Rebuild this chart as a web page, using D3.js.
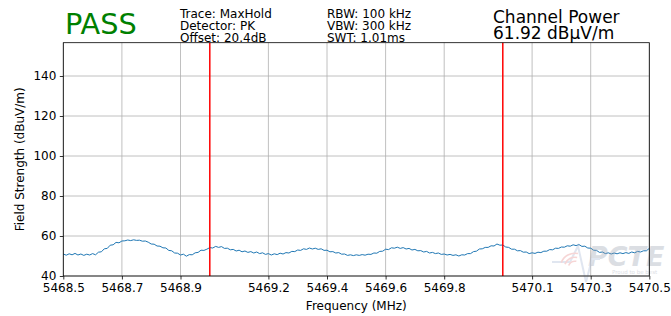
<!DOCTYPE html>
<html><head><meta charset="utf-8">
<script src="https://cdn.jsdelivr.net/npm/d3@7"></script>
<style>body{margin:0;background:#fff}svg{display:block;font-family:"DejaVu Sans",sans-serif}</style>
</head><body><svg id="c" width="671" height="316"></svg>
<script>
const startFreq = 5468.5;
const stepFreq = 0.01;
const levels = [
51.0,50.4,51.1,50.6,51.3,50.5,51.0,50.3,50.9,50.5,
51.2,50.6,51.9,52.1,53.6,53.8,55.4,55.6,56.8,56.6,
57.5,57.6,58.0,57.7,58.1,57.8,57.9,57.4,57.5,56.9,
56.0,55.9,55.0,54.9,54.1,54.0,52.8,52.6,51.5,51.4,
50.5,50.9,49.9,50.7,50.6,51.6,51.8,52.9,52.8,53.4,
54.2,54.0,54.8,54.3,54.7,53.8,53.9,53.1,53.3,52.5,
52.9,52.1,52.5,51.8,52.2,51.5,52.0,51.2,51.6,50.8,
51.2,50.5,51.1,50.7,51.4,51.0,51.7,51.5,52.3,52.2,
53.0,52.8,53.6,53.3,54.0,53.5,53.9,53.3,53.6,52.8,
52.9,52.1,52.2,51.5,51.7,50.9,51.0,50.3,50.6,50.2,
50.6,50.3,50.7,50.4,50.9,50.8,51.5,51.4,52.3,52.4,
53.4,53.2,54.1,53.9,54.4,53.8,54.2,53.5,53.8,53.0,
53.3,52.6,52.7,52.0,52.3,51.5,51.8,51.2,51.5,50.8,
51.0,50.5,50.8,50.3,50.6,50.0,50.6,50.5,51.2,51.2,
52.2,52.4,53.5,53.6,54.3,54.3,55.1,55.0,56.0,55.4,
55.5,54.5,54.3,53.4,53.4,52.6,52.7,51.9,52.0,51.2,
51.6,51.3,51.9,51.7,52.4,52.4,53.2,53.1,53.9,53.8,
54.5,54.4,55.1,54.9,55.6,55.2,55.7,54.8,54.9,54.0,
53.9,52.9,52.8,51.8,52.0,51.2,51.6,51.0,51.5,51.1,
51.6,51.2,51.7,51.3,52.0,51.6,52.3,52.0,52.6,52.6,
53.8];
const markerFreqs = [5469.0, 5470.0];
const xTicks = [5468.5, 5468.7, 5468.9, 5469.2, 5469.4, 5469.6, 5469.8, 5470.1, 5470.3, 5470.5];
const yTicks = [40, 60, 80, 100, 120, 140];
const infoCol1 = ["Trace: MaxHold", "Detector: PK", "Offset: 20.4dB"];
const infoCol2 = ["RBW: 100 kHz", "VBW: 300 kHz", "SWT: 1.01ms"];
const verdict = "PASS";
const powerTitle = "Channel Power";
const powerValue = "61.92 dBµV/m";

const data = levels.map((v, i) => ({f: startFreq + i * stepFreq, v}));
const svg = d3.select("#c");
const L = 63.3, R = 649.3, T = 42.7, B = 276;
const x = d3.scaleLinear().domain([5468.5, 5470.5]).range([L, R]);
const y = d3.scaleLinear().domain([40, 156.65]).range([B, T]);

// grid
const g = svg.append("g");
g.selectAll(".vg").data(xTicks).join("line")
  .attr("x1", d => x(d)).attr("x2", d => x(d)).attr("y1", T).attr("y2", B)
  .attr("stroke", "#b0b0b0").attr("stroke-width", 0.8);
g.selectAll(".hg").data(yTicks).join("line")
  .attr("x1", L).attr("x2", R).attr("y1", d => y(d)).attr("y2", d => y(d))
  .attr("stroke", "#b0b0b0").attr("stroke-width", 0.8);

// trace
const line = d3.line().x(d => x(d.f)).y(d => y(d.v));
svg.append("path").datum(data).attr("d", line)
  .attr("fill", "none").attr("stroke", "#1f77b4").attr("stroke-width", 1);

// markers
svg.selectAll(".mk").data(markerFreqs).join("line")
  .attr("x1", d => x(d)).attr("x2", d => x(d)).attr("y1", T).attr("y2", B)
  .attr("stroke", "#ff0000").attr("stroke-width", 1.5);

// watermark
const wm = svg.append("g").attr("opacity", 0.35);
wm.append("text").attr("x", 588).attr("y", 266).attr("font-size", 27)
  .attr("font-weight", "bold").attr("font-style", "italic").attr("fill", "#9aa3b0").text("PCTE");
wm.append("text").attr("x", 612).attr("y", 273.5).attr("font-size", 5.5)
  .attr("fill", "#9aa3b0").text("Proud to be best");
wm.append("path").attr("d", "M552,262 L570,262 L578,246 L586,282 L592,259 L600,259")
  .attr("fill", "none").attr("stroke", "#a9b8d6").attr("stroke-width", 2);
[6, 10, 14].forEach(r => wm.append("path")
  .attr("d", d3.arc()({innerRadius: r, outerRadius: r + 1.6, startAngle: -1.2, endAngle: 0.2}))
  .attr("transform", "translate(575,268)").attr("fill", "#e88a8a"));

// axes
const xa = svg.append("g").attr("transform", `translate(0,${B})`)
  .call(d3.axisBottom(x).tickValues(xTicks).tickFormat(d3.format(".1f")).tickSize(3.5).tickPadding(3.5));
const ya = svg.append("g").attr("transform", `translate(${L},0)`)
  .call(d3.axisLeft(y).tickValues(yTicks).tickSize(3.5).tickPadding(3.5));
[xa, ya].forEach(a => {
  a.select(".domain").remove();
  a.selectAll("text").attr("font-size", 12).attr("font-family", "DejaVu Sans").attr("fill", "#000");
  a.selectAll("line").attr("stroke", "#000").attr("stroke-width", 0.8);
});
svg.append("rect").attr("x", L).attr("y", T).attr("width", R - L).attr("height", B - T)
  .attr("fill", "none").attr("stroke", "#000").attr("stroke-width", 0.8);

// labels
svg.append("text").attr("x", (L + R) / 2).attr("y", 310).attr("text-anchor", "middle")
  .attr("font-size", 12).text("Frequency (MHz)");
svg.append("text").attr("transform", `translate(24,${(T + B) / 2}) rotate(-90)`)
  .attr("text-anchor", "middle").attr("font-size", 12).text("Field Strength (dBuV/m)");

// header
svg.append("text").attr("x", 65).attr("y", 33.5).attr("font-size", 28.8).attr("fill", "#008000").text(verdict);
infoCol1.forEach((t, i) => svg.append("text").attr("x", 180).attr("y", 17.5 + i * 12).attr("font-size", 12).text(t));
infoCol2.forEach((t, i) => svg.append("text").attr("x", 327).attr("y", 17.5 + i * 12).attr("font-size", 12).text(t));
svg.append("text").attr("x", 493).attr("y", 22.5).attr("font-size", 17).text(powerTitle);
svg.append("text").attr("x", 493).attr("y", 39).attr("font-size", 17).text(powerValue);
</script></body></html>
